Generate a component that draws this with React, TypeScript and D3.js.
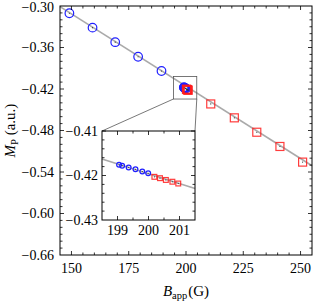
import React from 'react';
import * as d3 from 'd3';

// values
const lowB = [149.1, 159.2, 169.1, 179.1, 189.3];
const lowM = [-0.3105, -0.3313, -0.3523, -0.3734, -0.394];
const highB = [210.8, 221.1, 230.9, 241.0, 250.9];
const highM = [-0.4416, -0.4617, -0.4825, -0.5031, -0.5257];
const zoomLowB = [199.05, 199.15, 199.36, 199.58, 199.8, 199.99];
const zoomLowM = [-0.4176, -0.4178, -0.4182, -0.4186, -0.4191, -0.4195];
const zoomHighB = [200.19, 200.37, 200.56, 200.77, 200.96];
const zoomHighM = [-0.4203, -0.4206, -0.421, -0.4214, -0.4218];
const fitB = [145, 255];
const fitM = [-0.301, -0.531];
const insetFitB = [198.5, 201.5];
const insetFitM = [-0.4163, -0.4229];
const xTicks = [150, 175, 200, 225, 250];
const yTicks = [-0.66, -0.6, -0.54, -0.48, -0.42, -0.36, -0.3];
const insetXTicks = [199, 200, 201];
const insetYTicks = [-0.43, -0.42, -0.41];
const zoomBoxB = [194.5, 204.7];
const zoomBoxM = [-0.4345, -0.402];

const font = "'Liberation Serif', 'DejaVu Serif', serif";
const blue = "#1f1fff";
const red = "#ff1a1a";
const fs = 14;

const main = {left: 60, right: 312, top: 6, bottom: 255};
const inset = {left: 102, right: 195, top: 131, bottom: 220};

const x = d3.scaleLinear().domain([145, 255]).range([main.left, main.right]);
const y = d3.scaleLinear().domain([-0.66, -0.3]).range([main.bottom, main.top]);
const xi = d3.scaleLinear().domain([198.5, 201.5]).range([inset.left, inset.right]);
const yi = d3.scaleLinear().domain([-0.43, -0.41]).range([inset.bottom, inset.top]);

const fmt = d3.format(".2f");

function Frame({box, xs, ys, xMinor, yMinor, xMajor, yMajor}) {
    const els = [];
    const tick = (x1, y1, x2, y2, k) =>
        els.push(<line key={k} x1={x1} y1={y1} x2={x2} y2={y2} stroke="#000" strokeWidth={0.8}/>);
    xMinor.forEach((v, i) => {
        const len = xMajor.some(m => Math.abs(m - v) < 1e-6) ? 4 : 2.5;
        const px = xs(v);
        tick(px, box.bottom, px, box.bottom - len, "xb" + i);
        tick(px, box.top, px, box.top + len, "xt" + i);
    });
    yMinor.forEach((v, i) => {
        const len = yMajor.some(m => Math.abs(m - v) < 1e-6) ? 4 : 2.5;
        const py = ys(v);
        tick(box.left, py, box.left + len, py, "yl" + i);
        tick(box.right, py, box.right - len, py, "yr" + i);
    });
    return (
        <g>
            {els}
            <rect x={box.left} y={box.top} width={box.right - box.left} height={box.bottom - box.top}
                  fill="none" stroke="#000" strokeWidth={1}/>
        </g>
    );
}

function Circle({cx, cy, r}) {
    return (
        <g>
            <circle cx={cx} cy={cy} r={r} fill="none" stroke={blue} strokeWidth={1.2}/>
            <circle cx={cx} cy={cy} r={0.6} fill="#333"/>
        </g>
    );
}

function Square({cx, cy, s}) {
    return (
        <g>
            <rect x={cx - s / 2} y={cy - s / 2} width={s} height={s} fill="none" stroke={red}
                  strokeWidth={1.2} strokeOpacity={0.85}/>
            <circle cx={cx} cy={cy} r={0.6} fill="#333"/>
        </g>
    );
}

export default function App() {
    const line = d3.line().x(d => x(d[0])).y(d => y(d[1]));
    const lineI = d3.line().x(d => xi(d[0])).y(d => yi(d[1]));
    const fit = fitB.map((b, i) => [b, fitM[i]]);
    const fitI = insetFitB.map((b, i) => [b, insetFitM[i]]);

    const bx0 = x(zoomBoxB[0]), bx1 = x(zoomBoxB[1]);
    const by0 = y(zoomBoxM[1]), by1 = y(zoomBoxM[0]);
    const txt = {fontFamily: font};

    return (
        <svg width={315} height={302}
             style={{position: 'absolute', left: 0, top: 0, background: '#fff'}}>
            <path d={line(fit)} stroke="#aaa" strokeWidth={1.6} fill="none"/>
            {lowB.map((b, i) => <Circle key={"lc" + i} cx={x(b)} cy={y(lowM[i])} r={4.3}/>)}
            {zoomLowB.map((b, i) => <Circle key={"zc" + i} cx={x(b)} cy={y(zoomLowM[i])} r={4.3}/>)}
            {zoomHighB.map((b, i) => <Square key={"zs" + i} cx={x(b)} cy={y(zoomHighM[i])} s={8}/>)}
            {highB.map((b, i) => <Square key={"hs" + i} cx={x(b)} cy={y(highM[i])} s={8}/>)}

            <Frame box={main} xs={x} ys={y}
                   xMinor={d3.range(150, 255, 5)} xMajor={xTicks}
                   yMinor={d3.range(-0.65, -0.3, 0.01).map(v => +v.toFixed(2))} yMajor={yTicks}/>
            {xTicks.map(t => (
                <text key={"xt" + t} style={txt} x={x(t)} y={main.bottom + 18} fontSize={fs}
                      textAnchor="middle">{t}</text>
            ))}
            {yTicks.map(t => (
                <text key={"yt" + t} style={txt} x={main.left - 6} y={y(t) + (t === -0.3 ? 1 : 0)} dy="0.33em"
                      fontSize={fs} textAnchor="end">{fmt(t)}</text>
            ))}
            <text style={txt} x={(main.left + main.right) / 2} y={296} fontSize={15} textAnchor="middle">
                <tspan fontStyle="italic">B</tspan>
                <tspan fontSize={10.5} dy={3}>app</tspan>
                <tspan dy={-3} dx={1}>(G)</tspan>
            </text>
            <text style={txt} transform={`translate(15,${(main.top + main.bottom) / 2}) rotate(-90)`} fontSize={15}
                  textAnchor="middle">
                <tspan fontStyle="italic">M</tspan>
                <tspan fontSize={10.5} dy={3}>P</tspan>
                <tspan dy={-3}> (a.u.)</tspan>
            </text>

            {/* zoom box and connectors */}
            <rect x={bx0} y={by0} width={bx1 - bx0} height={by1 - by0} fill="none" stroke="#555" strokeWidth={0.8}/>
            <line x1={bx0} y1={by1} x2={inset.left} y2={inset.top} stroke="#555" strokeWidth={0.8}/>
            <line x1={bx1} y1={by1} x2={inset.right} y2={inset.top} stroke="#555" strokeWidth={0.8}/>

            {/* inset */}
            <rect x={inset.left} y={inset.top} width={inset.right - inset.left} height={inset.bottom - inset.top}
                  fill="#fff"/>
            <path d={lineI(fitI)} stroke="#aaa" strokeWidth={1.6} fill="none"/>
            {zoomLowB.map((b, i) => <Circle key={"ic" + i} cx={xi(b)} cy={yi(zoomLowM[i])} r={2.4}/>)}
            {zoomHighB.map((b, i) => <Square key={"is" + i} cx={xi(b)} cy={yi(zoomHighM[i])} s={4.8}/>)}
            <Frame box={inset} xs={xi} ys={yi}
                   xMinor={d3.range(199, 201.5, 0.5)} xMajor={insetXTicks}
                   yMinor={d3.range(-0.428, -0.41, 0.002).map(v => +v.toFixed(3))} yMajor={insetYTicks}/>
            {insetXTicks.map(t => (
                <text key={"ixt" + t} style={txt} x={xi(t)} y={inset.bottom + 15} fontSize={fs}
                      textAnchor="middle">{t}</text>
            ))}
            {insetYTicks.map(t => (
                <text key={"iyt" + t} style={txt} x={inset.left - 4} y={yi(t)} dy="0.33em" fontSize={fs}
                      textAnchor="end">{fmt(t)}</text>
            ))}
        </svg>
    );
}
